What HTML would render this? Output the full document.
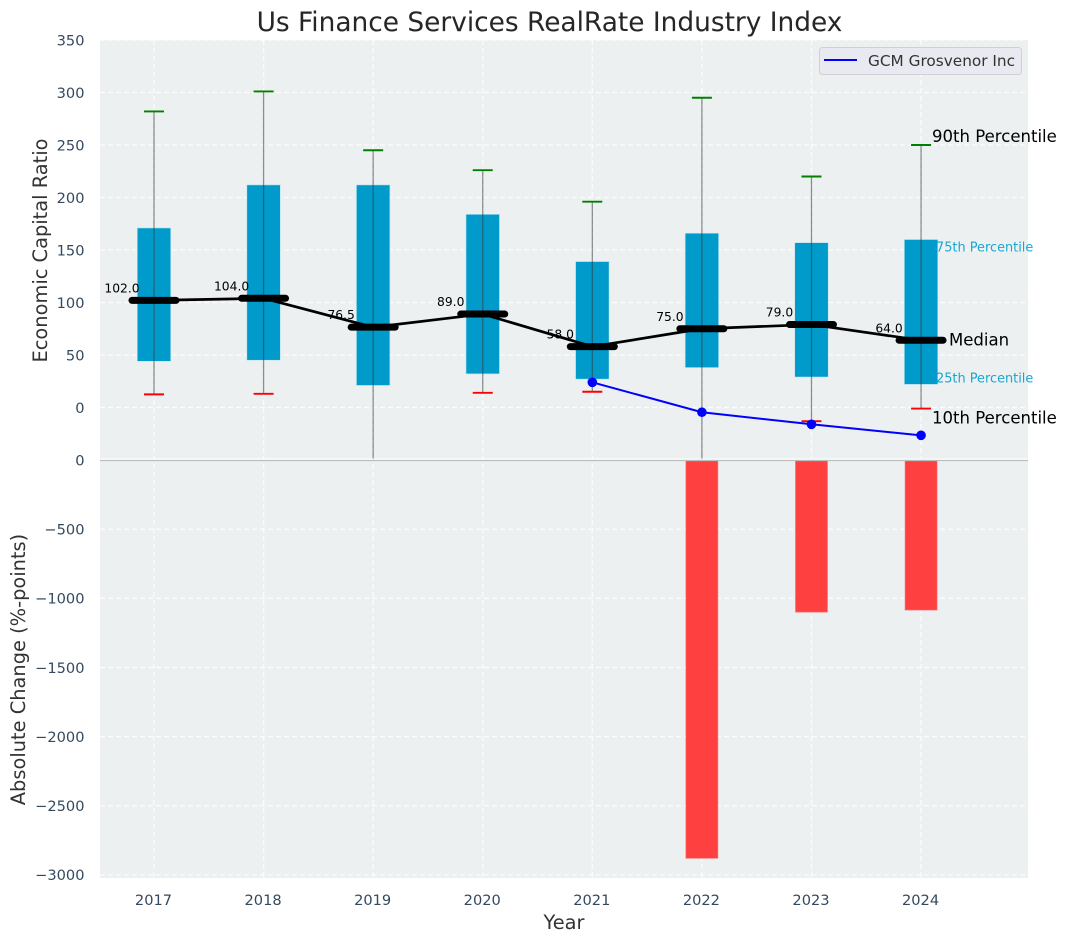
<!DOCTYPE html>
<html>
<head>
<meta charset="utf-8">
<title>Us Finance Services RealRate Industry Index</title>
<style>
html,body{margin:0;padding:0;background:#fff;width:1067px;height:942px;overflow:hidden}
svg{display:block}
text{font-family:"DejaVu Sans","Liberation Sans",sans-serif}
</style>
</head>
<body>
<svg id="chart" xmlns="http://www.w3.org/2000/svg" width="1067" height="942" viewBox="0 0 1067 942">
<defs>
<clipPath id="top-clip"><rect x="100" y="40" width="928" height="420"/></clipPath>
</defs>
</svg>
<script>
const years = [2017, 2018, 2019, 2020, 2021, 2022, 2023, 2024];
const p10 = [12.5, 13, -60, 14, 15, -60, -13, -1];
const p25 = [44, 45, 21, 32, 27, 38, 29, 22];
const p75 = [171, 212, 212, 184, 139, 166, 157, 160];
const p90 = [282, 301, 245, 226, 196, 295, 220, 250];
const medians = [102, 104, 76.5, 89, 58, 75, 79, 64];
const company = [null, null, null, null, 24, -4.5, -16, -26.5];
const changes = [null, null, null, null, null, -2880, -1100, -1085];
const topTicks = [0, 50, 100, 150, 200, 250, 300, 350];
const bottomTicks = [0, -500, -1000, -1500, -2000, -2500, -3000];

const NS = 'http://www.w3.org/2000/svg';
const svg = document.getElementById('chart');
const LEFT = 100, RIGHT = 1028, TOP = 40, MID = 460, BOTTOM = 878;
function xScale(year) { return 154 + (year - 2017) * 109.58; }
function yTop(v) { return 407.5 - v * 1.05; }
function yBot(v) { return 460 + (-v) * 0.1383; }

function make(tag, attrs, name, interactable, parent) {
  const el = document.createElementNS(NS, tag);
  for (const k in attrs) el.setAttribute(k, attrs[k]);
  
  
  (parent || svg).appendChild(el);
  return el;
}
function label(str, attrs, name) {
  const t = make('text', attrs, name, false);
  t.textContent = str;
  return t;
}
function line(x1, y1, x2, y2, stroke, width, name, extra) {
  return make('line', Object.assign({x1: x1, y1: y1, x2: x2, y2: y2, stroke: stroke, 'stroke-width': width}, extra || {}), name, false);
}

label('Us Finance Services RealRate Industry Index', {x: 549.5, y: 31, 'text-anchor': 'middle', 'font-size': 26.4, fill: '#262626'}, 'chart-title');

make('rect', {x: LEFT, y: TOP, width: RIGHT - LEFT, height: MID - TOP, fill: '#ecf0f1'}, 'top-panel-background', false);
make('rect', {x: LEFT, y: MID, width: RIGHT - LEFT, height: BOTTOM - MID, fill: '#ecf0f1'}, 'bottom-panel-background', false);

const gridDash = {'stroke-dasharray': '5 3', opacity: 0.85};
topTicks.forEach(function (t) {
  line(LEFT, yTop(t), RIGHT, yTop(t), '#fff', 1.3, 'top-grid-line-' + t, gridDash);
  label(String(t), {x: 84.5, y: yTop(t) + 5.3, 'text-anchor': 'end', 'font-size': 14.6, fill: '#34495e'}, 'top-y-tick-' + t);
});
bottomTicks.forEach(function (t) {
  line(LEFT, yBot(t), RIGHT, yBot(t), '#fff', 1.3, 'bottom-grid-line-' + (-t), gridDash);
  label(String(t).replace('-', '\u2212'), {x: 84.5, y: yBot(t) + 5.3, 'text-anchor': 'end', 'font-size': 14.6, fill: '#34495e'}, 'bottom-y-tick-' + (-t));
});
years.forEach(function (yr) {
  const x = xScale(yr);
  line(x, TOP, x, BOTTOM, '#fff', 1.3, 'vertical-grid-line-' + yr, gridDash);
  label(String(yr), {x: x - 0.5, y: 905, 'text-anchor': 'middle', 'font-size': 14.6, fill: '#34495e'}, 'x-tick-' + yr);
});

const BOX_W = 33.5, CAP_W = 20;
years.forEach(function (yr, i) {
  const x = xScale(yr);
  make('rect', {x: x - BOX_W / 2, y: yTop(p75[i]), width: BOX_W, height: yTop(p25[i]) - yTop(p75[i]), fill: '#009bcb', stroke: '#bfe6f2', 'stroke-width': 0.6}, 'box-' + yr, false);
  if (changes[i] !== null) {
    make('rect', {x: x - 16, y: MID, width: 32, height: yBot(changes[i]) - MID, fill: '#ff4040', stroke: '#ff6f6f', 'stroke-width': 0.6}, 'change-bar-' + yr, false);
  }
  const whisker = line(x, yTop(p90[i]), x, yTop(p10[i]), '#33393d', 1.3, 'whisker-' + yr, {opacity: 0.55});
  whisker.setAttribute('clip-path', 'url(#top-clip)');
  line(x - CAP_W / 2, yTop(p90[i]), x + CAP_W / 2, yTop(p90[i]), '#008000', 1.9, 'p90-cap-' + yr);
  const lowCap = line(x - CAP_W / 2, yTop(p10[i]), x + CAP_W / 2, yTop(p10[i]), '#ff0000', 1.9, 'p10-cap-' + yr);
  lowCap.setAttribute('clip-path', 'url(#top-clip)');
});

make('polyline', {
  points: years.map(function (yr, i) { return xScale(yr) + ',' + yTop(medians[i]); }).join(' '),
  fill: 'none', stroke: '#000', 'stroke-width': 2.7, 'stroke-linejoin': 'round'
}, 'median-line', false);

years.forEach(function (yr, i) {
  const x = xScale(yr), y = yTop(medians[i]);
  label(medians[i].toFixed(1), {x: x - 32, y: y - 8, 'text-anchor': 'middle', 'font-size': 12.3, fill: '#000'}, 'median-value-' + yr);
  line(x - 22, y, x + 22, y, '#000', 7, 'median-marker-' + yr, {'stroke-linecap': 'round'});
});

const companyYears = years.filter(function (yr, i) { return company[i] !== null; });
make('polyline', {
  points: companyYears.map(function (yr) { return xScale(yr) + ',' + yTop(company[years.indexOf(yr)]); }).join(' '),
  fill: 'none', stroke: '#0000ff', 'stroke-width': 2
}, 'company-line', false);
companyYears.forEach(function (yr) {
  make('circle', {cx: xScale(yr), cy: yTop(company[years.indexOf(yr)]), r: 4.8, fill: '#0000ff'}, 'company-point-' + yr, false);
});

line(LEFT, 459.2, RIGHT, 459.2, '#fff', 1.4, 'panel-divider-white');
line(LEFT, 460.5, RIGHT, 460.5, '#bdbdbd', 1.3, 'zero-line');

label('90th Percentile', {x: 932, y: 142, 'font-size': 16.55, fill: '#000'}, 'p90-annotation');
label('75th Percentile', {x: 936, y: 251.5, 'font-size': 12.9, fill: '#00a0d0', opacity: 0.9}, '75th-percentile-annotation');
label('Median', {x: 949, y: 345.5, 'font-size': 16.55, fill: '#000'}, 'median-annotation');
label('25th Percentile', {x: 936, y: 382.5, 'font-size': 12.9, fill: '#00a0d0', opacity: 0.9}, '25th-percentile-annotation');
label('10th Percentile', {x: 932, y: 423.5, 'font-size': 16.55, fill: '#000'}, 'p10-annotation');

make('rect', {x: 819.5, y: 47.5, width: 202, height: 27, rx: 3, fill: '#e9e9f1', stroke: '#d0d0d4', 'stroke-width': 1}, 'legend-box', false);
line(824, 60, 857, 60, '#0000ff', 2, 'legend-line');
label('GCM Grosvenor Inc', {x: 868, y: 66, 'font-size': 15.3, fill: '#333'}, 'legend-label');

label('Economic Capital Ratio', {x: 0, y: 0, transform: 'translate(47,250.5) rotate(-90)', 'text-anchor': 'middle', 'font-size': 19.4, fill: '#333'}, 'top-y-axis-title');
label('Absolute Change (%-points)', {x: 0, y: 0, transform: 'translate(25,669.5) rotate(-90)', 'text-anchor': 'middle', 'font-size': 19.4, fill: '#333'}, 'bottom-y-axis-title');
label('Year', {x: 564, y: 929, 'text-anchor': 'middle', 'font-size': 19.4, fill: '#333'}, 'x-axis-title');
</script>
</body>
</html>
